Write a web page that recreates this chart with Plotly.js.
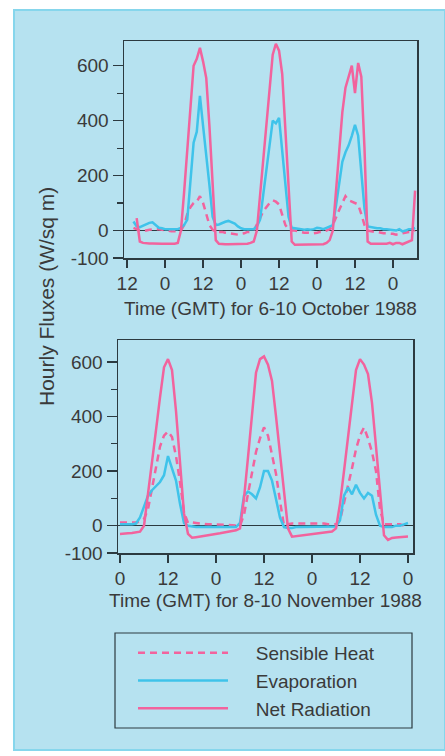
<!DOCTYPE html>
<html>
<head>
<meta charset="utf-8">
<script src="https://cdn.plot.ly/plotly-3.0.1.min.js"></script>
<style>
  html, body { margin: 0; padding: 0; background: #ffffff; }
  #chart { width: 445px; height: 756px; }
</style>
</head>
<body>
<div id="chart"></div>
<script>
// ---------- October 6-10, 1988 (hours from 6 Oct 00:00 GMT) ----------
const octHours = [14,15,16,17,18,19,20,21,22,23,24,25,26,27,28,29,30,31,32,33,34,35,36,37,38,39,40,41,42,43,44,45,46,47,48,49,50,51,52,53,54,55,56,57,58,59,60,61,62,63,64,65,66,67,68,69,70,71,72,73,74,75,76,77,78,79,80,81,82,83,84,85,86,87,88,89,90,91,92,93,94,95,96,97,98,99,100,101,102,103];
const octNetRadiation = [null,45,-40,-45,-47,-47,-47,-48,-48,-48,-48,-48,-48,-48,-45,0,140,300,450,600,625,665,615,555,380,150,-35,-48,-50,-50,-50,-50,-50,-50,-50,-50,-48,-45,-40,0,130,260,390,520,640,680,655,570,360,140,-40,-52,-52,-52,-52,-52,-52,-52,-52,-50,-50,-45,-35,0,150,300,430,520,560,600,500,610,560,300,-40,-48,-48,-48,-50,-50,-48,-45,-50,-45,-45,-50,-45,-40,-35,145];
const octEvaporation = [33,15,12,18,22,28,30,20,10,8,5,5,5,5,5,10,20,40,180,320,360,490,380,280,165,50,20,22,28,32,35,30,25,15,8,5,5,3,5,15,40,130,220,310,400,390,410,290,170,50,10,8,5,5,3,5,3,5,10,8,5,10,15,20,90,170,250,285,310,345,385,345,220,80,15,12,10,8,8,5,5,3,3,0,5,-3,0,5,5,10];
const octSensibleHeat = [10,5,0,0,0,3,5,5,5,3,0,0,-3,-3,0,0,20,60,85,100,105,125,100,60,20,3,-5,-5,-5,-8,-10,-12,-15,-15,-12,-10,-5,-5,0,20,45,70,85,100,110,105,95,60,20,5,0,0,-3,-5,-8,-8,-10,-10,-8,-5,-5,0,5,20,50,75,100,125,110,105,100,95,60,20,0,-3,-5,-5,-8,-10,-10,-10,-12,-15,-12,-10,-8,-5,-5,0];
const octTickVals = [12,24,36,48,60,72,84,96];
const octTickText = ['12','0','12','0','12','0','12','0'];

// ---------- November 8-10, 1988 (hours from 8 Nov 00:00 GMT) ----------
const novHours = [0,1,2,3,4,5,6,7,8,9,10,11,12,13,14,15,16,17,18,19,20,21,22,23,24,25,26,27,28,29,30,31,32,33,34,35,36,37,38,39,40,41,42,43,44,45,46,47,48,49,50,51,52,53,54,55,56,57,58,59,60,61,62,63,64,65,66,67,68,69,70,71,72];
const novNetRadiation = [-30,-30,-28,-27,-25,-22,0,110,230,350,470,580,610,570,420,230,45,-30,-44,-42,-40,-37,-35,-33,-30,-28,-25,-22,-20,-17,-10,100,250,410,560,610,620,590,530,400,260,120,-10,-40,-38,-36,-34,-32,-30,-28,-26,-24,-22,-21,-10,80,200,330,450,570,610,590,555,450,290,130,-35,-52,-45,-43,-42,-40,-40];
const novEvaporation = [5,5,5,5,8,30,70,110,130,145,160,185,255,210,165,80,10,0,-3,-5,-5,-5,-5,-5,-5,-5,-5,-5,-5,-5,10,110,125,115,100,140,200,200,165,100,30,-5,-8,-8,-5,-5,-5,-5,-5,-5,-5,-5,-5,-5,-3,20,110,140,115,150,120,100,120,110,40,0,-5,-5,-5,0,0,5,10];
const novSensibleHeat = [12,12,12,12,12,15,25,60,135,220,290,330,345,325,255,160,50,10,12,10,8,5,5,5,5,5,5,3,2,0,0,40,120,200,270,320,360,330,260,190,90,0,5,8,8,8,8,8,8,8,8,8,5,5,5,20,80,140,210,280,330,360,320,270,200,60,5,5,5,5,5,0,0];
const novTickVals = [0,12,24,36,48,60,72];
const novTickText = ['0','12','0','12','0','12','0'];

// ---------- shared ----------
const yTickVals = [-100,0,200,400,600];
const yTickText = ['-100','0','200','400','600'];
const seriesNames = ['Sensible Heat','Evaporation','Net Radiation'];

const W = 445, H = 756;
const pink = '#f2639d';
const blue = '#3fc3ea';
const ink = '#2c3a40';
const txt = '#3a3a3a';
const FONT = 'Liberation Sans, Arial, Helvetica, sans-serif';
const LEGPAD = '\u2003\u2009';

function px(x){ return x / W; }
function py(y){ return 1 - y / H; }

const traces = [
  {x: octHours, y: octSensibleHeat, xaxis:'x', yaxis:'y', name: LEGPAD + seriesNames[0], legendgroup:'a',
   mode:'lines', line:{color:pink, width:2.5, dash:'7px,5px'}},
  {x: octHours, y: octEvaporation, xaxis:'x', yaxis:'y', name: LEGPAD + seriesNames[1], legendgroup:'b',
   mode:'lines', line:{color:blue, width:2.5}},
  {x: octHours, y: octNetRadiation, xaxis:'x', yaxis:'y', name: LEGPAD + seriesNames[2], legendgroup:'c',
   mode:'lines', line:{color:pink, width:2.5}},
  {x: novHours, y: novSensibleHeat, xaxis:'x2', yaxis:'y2', name: seriesNames[0], legendgroup:'a', showlegend:false,
   mode:'lines', line:{color:pink, width:2.5, dash:'7px,5px'}},
  {x: novHours, y: novEvaporation, xaxis:'x2', yaxis:'y2', name: seriesNames[1], legendgroup:'b', showlegend:false,
   mode:'lines', line:{color:blue, width:2.5}},
  {x: novHours, y: novNetRadiation, xaxis:'x2', yaxis:'y2', name: seriesNames[2], legendgroup:'c', showlegend:false,
   mode:'lines', line:{color:pink, width:2.5}}
];

const xCommon = {
  ticks:'outside', ticklen:8, tickwidth:1.5, tickcolor:ink,
  showline:true, mirror:true, linecolor:ink, linewidth:1.5,
  showgrid:false, zeroline:false, tickmode:'array',
  tickfont:{family:FONT, size:19, color:txt}
};
const yCommon = {
  ticks:'outside', ticklen:10, tickwidth:1.5, tickcolor:ink,
  showline:true, mirror:true, linecolor:ink, linewidth:1.5,
  showgrid:false, zeroline:true, zerolinecolor:ink, zerolinewidth:1.5,
  tickmode:'array', tickvals:yTickVals, ticktext:yTickText,
  minor:{dtick:100, tick0:0, ticks:'outside', ticklen:6, tickwidth:1.2, tickcolor:ink},
  tickfont:{family:FONT, size:19, color:txt}
};

const layout = {
  width: W, height: H,
  margin:{l:0, r:0, t:0, b:0},
  paper_bgcolor:'#ffffff', plot_bgcolor:'rgba(0,0,0,0)',
  font:{family:FONT, size:19, color:txt},
  showlegend:true,
  xaxis: Object.assign({}, xCommon, {
    domain:[px(124), px(417)], anchor:'y', range:[11, 103.6],
    tickvals: octTickVals, ticktext: octTickText,
    title:{text:'Time (GMT) for 6-10 October 1988', font:{family:FONT, size:19, color:txt}, standoff:8}
  }),
  yaxis: Object.assign({}, yCommon, {
    domain:[py(258), py(41)], anchor:'x', range:[-100, 690]
  }),
  xaxis2: Object.assign({}, xCommon, {
    domain:[px(118), px(413)], anchor:'y2', range:[-0.5, 73.25],
    tickvals: novTickVals, ticktext: novTickText,
    title:{text:'Time (GMT) for 8-10 November 1988', font:{family:FONT, size:19, color:txt}, standoff:5}
  }),
  yaxis2: Object.assign({}, yCommon, {
    domain:[py(553), py(340)], anchor:'x2', range:[-100, 680]
  }),
  legend:{
    x: px(133), xanchor:'left', y: py(634), yanchor:'top',
    bgcolor:'rgba(0,0,0,0)', borderwidth:0,
    font:{family:FONT, size:19, color:txt},
    itemwidth:90, tracegroupgap:4,
    traceorder:'normal'
  },
  annotations:[{
    text:'Hourly Fluxes (W/sq m)', xref:'paper', yref:'paper',
    x: px(47), y: py(297), xanchor:'center', yanchor:'middle',
    textangle:-90, showarrow:false,
    font:{family:FONT, size:21, color:txt}
  }],
  shapes:[{
    type:'rect', xref:'paper', yref:'paper', layer:'below',
    x0: px(14), x1: px(445), y0: py(750), y1: py(10),
    fillcolor:'#b6e2f0', line:{color:'#86d6ec', width:2}
  },{
    type:'rect', xref:'paper', yref:'paper', layer:'below',
    x0: px(115), x1: px(412), y0: py(728), y1: py(633),
    fillcolor:'rgba(0,0,0,0)', line:{color:ink, width:1.2}
  }]
};

Plotly.newPlot('chart', traces, layout, {displayModeBar:false, staticPlot:true});
</script>
</body>
</html>
